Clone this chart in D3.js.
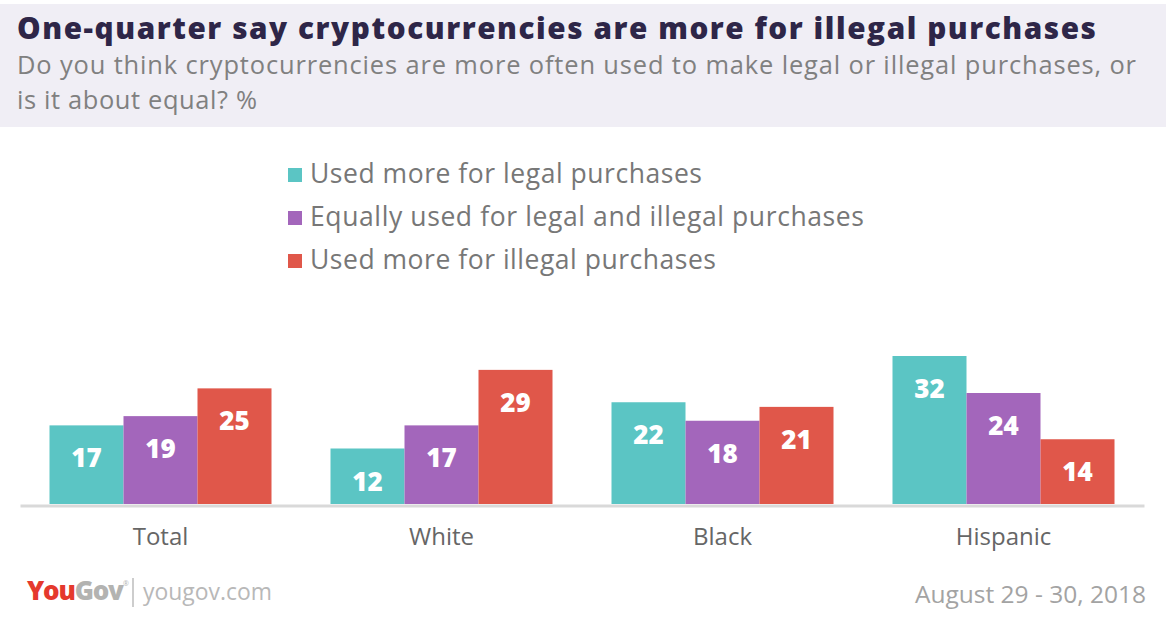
<!DOCTYPE html>
<html>
<head>
<meta charset="utf-8">
<script src="https://cdn.jsdelivr.net/npm/d3@7"></script>
<style>
  body { margin: 0; background: #fff; }
  svg { display: block; font-family: "Open Sans", Lato, sans-serif; }
</style>
</head>
<body>
<svg id="chart" width="1168" height="618"></svg>
<script>
// data
var categories = ['Total', 'White', 'Black', 'Hispanic'];
var seriesNames = ['Used more for legal purchases',
                   'Equally used for legal and illegal purchases',
                   'Used more for illegal purchases'];
var legalVals   = [17, 12, 22, 32];
var equalVals   = [19, 17, 18, 24];
var illegalVals = [25, 29, 21, 14];
var colors = ['#5bc5c4', '#a366bb', '#e0574a'];

var title = 'One-quarter say cryptocurrencies are more for illegal purchases';
var subtitle = ['Do you think cryptocurrencies are more often used to make legal or illegal purchases, or',
                'is it about equal? %'];
var dateText = 'August 29 - 30, 2018';

var svg = d3.select('#chart');

// bring a text node to a target width: a little by size, the rest by spacing
function fitWidth(sel, target) {
  sel.each(function() {
    var t = d3.select(this);
    var fs = +t.attr('font-size');
    var w = this.getComputedTextLength();
    var k = Math.max(0.94, Math.min(1.06, target / w));
    t.attr('font-size', (fs * k).toFixed(2));
    w = this.getComputedTextLength();
    var n = t.text().length;
    if (n > 1) t.attr('letter-spacing', ((target - w) / (n - 1)).toFixed(3));
  });
}

// header band
svg.append('rect').attr('x', 0).attr('y', 4).attr('width', 1166).attr('height', 123).attr('fill', '#f0eef5');

svg.append('text').attr('x', 17).attr('y', 39)
  .attr('font-size', 28).attr('font-weight', 800).attr('fill', '#2e2648')
  .text(title).call(fitWidth, 1079);

svg.selectAll('.sub').data(subtitle).enter().append('text')
  .attr('class', 'sub')
  .attr('x', 17).attr('y', function(d, i) { return 74 + i * 35; })
  .attr('font-size', 24).attr('fill', '#808080')
  .text(function(d) { return d; })
  .each(function(d, i) { d3.select(this).call(fitWidth, i == 0 ? 1119 : 240); });

// legend
var legend = svg.selectAll('.leg').data(seriesNames).enter().append('g')
  .attr('class', 'leg')
  .attr('transform', function(d, i) { return 'translate(288,' + (183 + i * 43) + ')'; });
legend.append('rect').attr('x', 0).attr('y', -15).attr('width', 14).attr('height', 14)
  .attr('fill', function(d, i) { return colors[i]; });
var legWidths = [392, 554, 406];
legend.append('text').attr('x', 22).attr('y', 0)
  .attr('font-size', 25).attr('fill', '#777')
  .text(function(d) { return d; })
  .each(function(d, i) { d3.select(this).call(fitWidth, legWidths[i]); });

// scales
var base = 504;
var x0 = d3.scaleBand().domain(categories).range([20, 1144]);
var x1 = d3.scaleBand().domain(d3.range(3)).range([0, 222]);
var y = d3.scaleLinear().domain([0, 40]).range([base, base - 185]);

var rows = categories.map(function(c, i) {
  return { cat: c, vals: [legalVals[i], equalVals[i], illegalVals[i]] };
});

var groups = svg.selectAll('.grp').data(rows).enter().append('g')
  .attr('class', 'grp')
  .attr('transform', function(d) { return 'translate(' + (x0(d.cat) + (x0.bandwidth() - 222) / 2) + ',0)'; });

var bars = groups.selectAll('g').data(function(d) { return d.vals; }).enter().append('g');
bars.append('rect')
  .attr('x', function(d, i) { return x1(i); })
  .attr('y', function(d) { return y(d); })
  .attr('width', x1.bandwidth())
  .attr('height', function(d) { return base - y(d); })
  .attr('fill', function(d, i) { return colors[i]; });
bars.append('text')
  .attr('x', function(d, i) { return x1(i) + x1.bandwidth() / 2; })
  .attr('y', function(d) { return y(d) + 42; })
  .attr('text-anchor', 'middle')
  .attr('font-size', 26).attr('font-weight', 800).attr('fill', '#fff')
  .text(function(d) { return d; });

// category axis, the domain line is the grey baseline
var xAxis = d3.axisBottom(x0).tickSize(0).tickSizeOuter(0);
var ax = svg.append('g').attr('transform', 'translate(0,' + (base + 1.5) + ')').call(xAxis);
ax.select('.domain').attr('stroke', '#d9d9d9').attr('stroke-width', 3);
ax.selectAll('text').attr('dy', null).attr('y', 39.5)
  .attr('font-family', '"Open Sans", sans-serif').attr('font-size', 24).attr('fill', '#666');

// footer
var logo = svg.append('text').attr('x', 27).attr('y', 600)
  .attr('font-size', 26).attr('font-weight', 800).attr('letter-spacing', -1.2);
logo.append('tspan').attr('fill', '#e5392d').text('You');
logo.append('tspan').attr('fill', '#b3b3b1').text('Gov');
svg.append('text').attr('x', 123).attr('y', 586).attr('font-size', 7).attr('fill', '#b3b3b1').text('®');
svg.append('line').attr('x1', 133).attr('x2', 133).attr('y1', 578).attr('y2', 607)
  .attr('stroke', '#bdbdbd').attr('stroke-width', 1.5);
svg.append('text').attr('x', 143).attr('y', 600)
  .attr('font-size', 24).attr('fill', '#b8b8b8')
  .text('yougov.com').call(fitWidth, 129);

svg.append('text').attr('x', 915).attr('y', 603)
  .attr('font-size', 24).attr('fill', '#a3a3a3')
  .text(dateText).call(fitWidth, 231);
</script>
</body>
</html>
